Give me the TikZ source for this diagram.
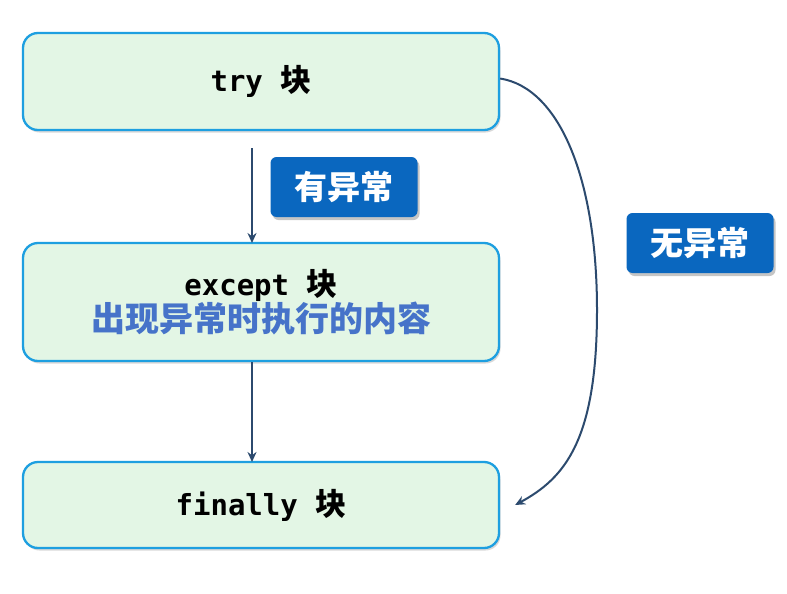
\documentclass[tikz,border=0pt]{standalone}
\usepackage{fontspec}
\setmonofont{DejaVu Sans Mono}
\newfontfamily\cjk{Noto Sans CJK SC}
\usetikzlibrary{arrows.meta,shadows}
\definecolor{boxfill}{HTML}{E3F6E5}
\definecolor{boxline}{HTML}{1E9FE0}
\definecolor{tagfill}{HTML}{0A67BF}
\definecolor{arrowc}{HTML}{2C4A6E}
\definecolor{bluetext}{HTML}{4673C9}
\tikzset{
  block/.style={draw=boxline, line width=2.3pt, fill=boxfill, rounded corners=15pt,
    minimum width=476pt, inner sep=0pt, align=center,
    drop shadow={shadow xshift=1.5pt, shadow yshift=-2.5pt, opacity=0.3}},
  tag/.style={fill=tagfill, rounded corners=6pt, minimum width=147pt, minimum height=60pt,
    inner sep=0pt, text=white, font=\cjk\bfseries\fontsize{33}{36}\selectfont,
    drop shadow={shadow xshift=2pt, shadow yshift=-3pt, opacity=0.45}},
  conn/.style={draw=arrowc, line width=2.2pt, -{Stealth[length=10pt,width=9pt]}},
  code/.style={font=\ttfamily\bfseries\fontsize{29}{34}\selectfont}
}
\newcommand{\kuai}{{\cjk\bfseries\fontsize{31}{34}\selectfont 块}}
\begin{document}
\begin{tikzpicture}[x=1pt,y=-1pt]
\useasboundingbox (0,0) rectangle (787,594);
\fill[white] (0,0) rectangle (787,594);
\node[block, minimum height=97pt, code] (try) at (261,81.5) {try \kuai};
\node[block, minimum height=118pt] (except) at (261,302)
  {{\ttfamily\bfseries\fontsize{29}{34}\selectfont except \kuai}\\[0pt]
   {\cjk\bfseries\fontsize{34}{38}\selectfont\color{bluetext}出现异常时执行的内容}};
\node[block, minimum height=86pt, code] (finally) at (261,505) {finally \kuai};
\node[tag] (yes) at (344,187) {有异常};
\node[tag] (no) at (700,243) {无异常};
\coordinate (top1) at (252,148);
\coordinate (in1) at (252,243);
\coordinate (out2) at (252,362);
\coordinate (in2) at (252,462);
\draw[conn] (top1) -- (in1);
\draw[conn] (out2) -- (in2);
\coordinate (cs) at ([yshift=3pt]try.east);
\coordinate (mid) at (597,310);
\coordinate (ce) at ([xshift=15pt]finally.east);
\draw[conn, line width=2pt] (cs) .. controls (560,88) and (597,180) .. (mid)
  .. controls (597,440) and (565,478) .. (ce);
\end{tikzpicture}
\end{document}
